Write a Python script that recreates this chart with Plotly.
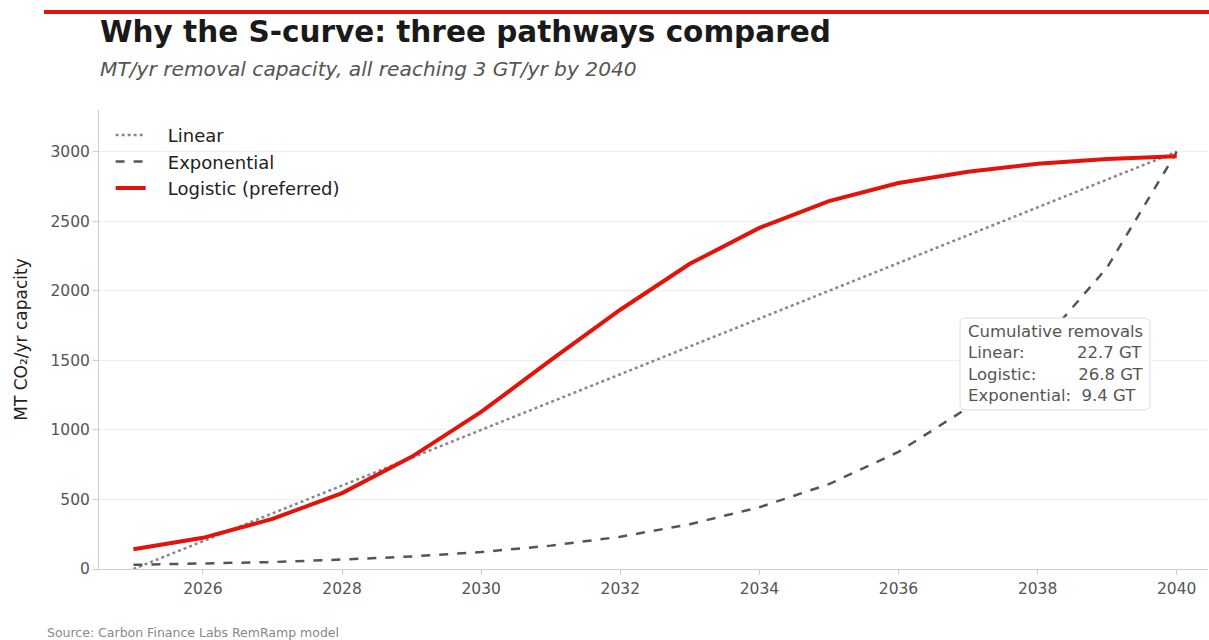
import plotly.graph_objects as go

years = list(range(2025, 2041))
linear = [0, 200, 400, 600, 800, 1000, 1200, 1400, 1600, 1800, 2000, 2200, 2400, 2600, 2800, 3000]
exponential = [30, 38, 50, 68, 90, 122, 168, 232, 322, 444, 610, 842, 1160, 1590, 2168, 3000]
logistic = [142, 224, 360, 546, 806, 1130, 1502, 1864, 2194, 2452, 2645, 2775, 2856, 2913, 2948, 2968]

x_ticks = [2026, 2028, 2030, 2032, 2034, 2036, 2038, 2040]
y_ticks = [0, 500, 1000, 1500, 2000, 2500, 3000]

FONT = "DejaVu Sans"
RED = "#e3120b"
nb = "\u00a0"

fig = go.Figure()
fig.add_trace(go.Scatter(x=years, y=linear, mode="lines", name=nb * 3 + "Linear",
                         line=dict(color="#888888", width=2.5, dash="dot")))
fig.add_trace(go.Scatter(x=years, y=exponential, mode="lines", name=nb * 3 + "Exponential",
                         line=dict(color="#555555", width=2.5, dash="dash")))
fig.add_trace(go.Scatter(x=years, y=logistic, mode="lines", name=nb * 3 + "Logistic (preferred)",
                         line=dict(color=RED, width=4)))

L, T, B, R = 99, 110, 71, 1
W, H = 1209, 640
pw = W - L - R
ph = H - T - B

def px(xpix):
    return (xpix - L) / pw

def py(ypix):
    return (H - B - ypix) / ph

# rounded box for annotation
bx0, by0, bx1, by1, r = px(960), py(410), px(1150), py(318), 6
rx, ry = r / pw, r / ph
box_path = (f"M {bx0+rx},{by0} L {bx1-rx},{by0} Q {bx1},{by0} {bx1},{by0+ry} "
            f"L {bx1},{by1-ry} Q {bx1},{by1} {bx1-rx},{by1} L {bx0+rx},{by1} "
            f"Q {bx0},{by1} {bx0},{by1-ry} L {bx0},{by0+ry} Q {bx0},{by0} {bx0+rx},{by0} Z")

fig.update_layout(
    width=W, height=H,
    margin=dict(l=L, r=R, t=T, b=B),
    paper_bgcolor="white", plot_bgcolor="white",
    font=dict(family=FONT, color="#555555", size=15.5),
    showlegend=True,
    legend=dict(x=0.0105, y=0.985, xanchor="left", yanchor="top",
                bgcolor="rgba(255,255,255,0)", font=dict(size=18, color="#222222"),
                tracegroupgap=0),
    xaxis=dict(range=[2024.505, 2040.45], tickvals=x_ticks, ticktext=[str(v) for v in x_ticks],
               showgrid=False, zeroline=False, showline=True, linecolor="#cccccc", linewidth=1,
               ticks="outside", ticklen=5, tickcolor="#cccccc",
               tickfont=dict(size=15.5, color="#555555")),
    yaxis=dict(range=[0, 3300], tickvals=y_ticks, ticktext=[str(v) for v in y_ticks],
               showgrid=True, gridcolor="#eeeeee", gridwidth=1, zeroline=False,
               showline=True, linecolor="#cccccc", linewidth=1,
               ticks="outside", ticklen=5, tickcolor="#cccccc",
               tickfont=dict(size=15.5, color="#555555"),
               title=dict(text="MT CO₂/yr capacity", font=dict(size=17, color="#222222"), standoff=18)),
    shapes=[dict(type="line", xref="paper", yref="paper", x0=px(44), x1=px(1212), y0=py(12), y1=py(12),
                 line=dict(color=RED, width=4)),
            dict(type="path", xref="paper", yref="paper", path=box_path,
                 fillcolor="white", line=dict(color="#dddddd", width=1), layer="above")],
)

box_text = ("Cumulative removals<br>"
            + "Linear:" + nb * 10 + "22.7 GT<br>"
            + "Logistic:" + nb * 8 + "26.8 GT<br>"
            + "Exponential:" + nb * 2 + "9.4 GT")

fig.add_annotation(x=px(98), y=py(32), xref="paper", yref="paper", xanchor="left", yanchor="middle",
                   text="<b>Why the S-curve: three pathways compared</b>", showarrow=False,
                   font=dict(size=29.5, color="#1a1a1a", family=FONT))
fig.add_annotation(x=px(98), y=py(69), xref="paper", yref="paper", xanchor="left", yanchor="middle",
                   text="<i>MT/yr removal capacity, all reaching 3 GT/yr by 2040</i>", showarrow=False,
                   font=dict(size=20.2, color="#555555", family=FONT))
fig.add_annotation(x=px(45), y=py(632), xref="paper", yref="paper", xanchor="left", yanchor="middle",
                   text="Source: Carbon Finance Labs RemRamp model", showarrow=False,
                   font=dict(size=12.5, color="#888888", family=FONT))
fig.add_annotation(x=px(965), y=py(319), xref="paper", yref="paper", xanchor="left", yanchor="top",
                   text=box_text, showarrow=False, align="left",
                   font=dict(size=16.5, color="#555555", family=FONT), borderpad=2)

fig.write_html("out.html", config={"displayModeBar": False},
               post_script="document.body.style.margin='0';document.body.style.overflow='hidden';")
